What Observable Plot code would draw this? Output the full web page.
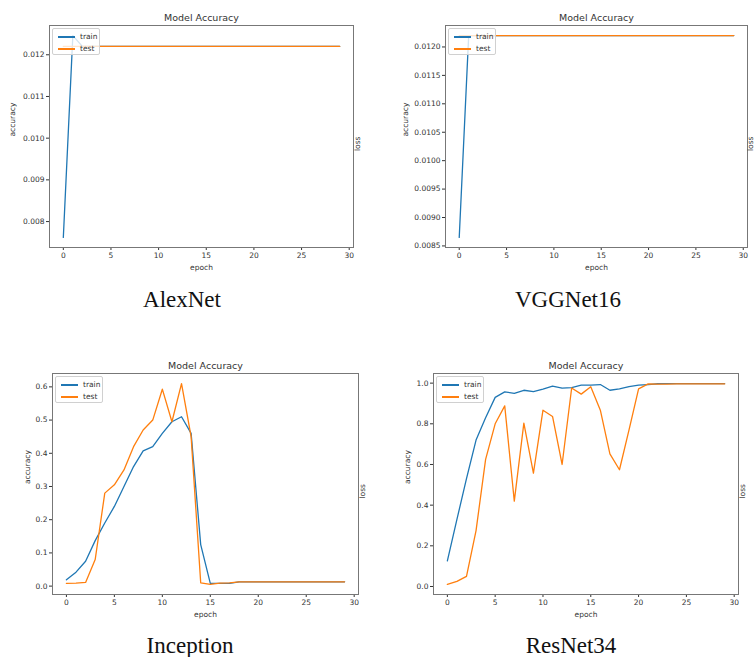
<!DOCTYPE html>
<html>
<head>
<meta charset="utf-8">
<script src="https://cdn.jsdelivr.net/npm/d3@7"></script>
<script src="https://cdn.jsdelivr.net/npm/@observablehq/plot@0.6"></script>
<style>
  html, body { margin: 0; padding: 0; background: #fff; }
  #root { position: relative; width: 754px; height: 657px; overflow: hidden; font-family: "DejaVu Sans", sans-serif; }
  .panel { position: absolute; }
  .caption { position: absolute; font-family: "Liberation Serif", "Times New Roman", serif; font-size: 23px; line-height: 23px; color: #111; transform: translateX(-50%); white-space: nowrap; }
  .legend { position: absolute; box-sizing: border-box; border: 1px solid #d0d0d0; border-radius: 2px; background: rgba(255,255,255,0.8); }
  .legend .row { position: absolute; left: 0; height: 10px; width: 100%; }
  .legend .sw { position: absolute; left: 5px; width: 17px; height: 1.4px; top: 4.3px; }
  .legend .lab { position: absolute; left: 27px; top: 0; font-size: 7.5px; line-height: 10px; color: #333; }
</style>
</head>
<body>
<div id="root"></div>
<script>
// ---- data ----
const epochs = [0,1,2,3,4,5,6,7,8,9,10,11,12,13,14,15,16,17,18,19,20,21,22,23,24,25,26,27,28,29];
const xTicks = [0, 5, 10, 15, 20, 25, 30];
const seriesNames = ["train", "test"];
const captions = ["AlexNet", "VGGNet16", "Inception", "ResNet34"];

const alexTrain = [0.00762,0.01246,0.0122,0.0122,0.0122,0.0122,0.0122,0.0122,0.0122,0.0122,0.0122,0.0122,0.0122,0.0122,0.0122,0.0122,0.0122,0.0122,0.0122,0.0122,0.0122,0.0122,0.0122,0.0122,0.0122,0.0122,0.0122,0.0122,0.0122,0.0122];
const alexTest  = [0.0122,0.0122,0.0122,0.0122,0.0122,0.0122,0.0122,0.0122,0.0122,0.0122,0.0122,0.0122,0.0122,0.0122,0.0122,0.0122,0.0122,0.0122,0.0122,0.0122,0.0122,0.0122,0.0122,0.0122,0.0122,0.0122,0.0122,0.0122,0.0122,0.0122];
const alexYTicks = [0.008, 0.009, 0.010, 0.011, 0.012];

const vggTrain = [0.00865,0.0122,0.0122,0.0122,0.0122,0.0122,0.0122,0.0122,0.0122,0.0122,0.0122,0.0122,0.0122,0.0122,0.0122,0.0122,0.0122,0.0122,0.0122,0.0122,0.0122,0.0122,0.0122,0.0122,0.0122,0.0122,0.0122,0.0122,0.0122,0.0122];
const vggTest  = [0.0122,0.0122,0.0122,0.0122,0.0122,0.0122,0.0122,0.0122,0.0122,0.0122,0.0122,0.0122,0.0122,0.0122,0.0122,0.0122,0.0122,0.0122,0.0122,0.0122,0.0122,0.0122,0.0122,0.0122,0.0122,0.0122,0.0122,0.0122,0.0122,0.0122];
const vggYTicks = [0.0085, 0.0090, 0.0095, 0.0100, 0.0105, 0.0110, 0.0115, 0.0120];

const incTrain = [0.019,0.042,0.075,0.137,0.19,0.24,0.30,0.36,0.407,0.42,0.46,0.495,0.51,0.46,0.125,0.008,0.008,0.008,0.013,0.013,0.013,0.013,0.013,0.013,0.013,0.013,0.013,0.013,0.013,0.013];
const incTest  = [0.008,0.009,0.011,0.08,0.28,0.305,0.35,0.42,0.47,0.50,0.593,0.495,0.61,0.45,0.01,0.005,0.009,0.01,0.013,0.013,0.013,0.013,0.013,0.013,0.013,0.013,0.013,0.013,0.013,0.013];
const incYTicks = [0.0, 0.1, 0.2, 0.3, 0.4, 0.5, 0.6];

const resTrain = [0.126,0.33,0.53,0.72,0.83,0.93,0.957,0.95,0.965,0.958,0.97,0.985,0.975,0.978,0.99,0.99,0.993,0.965,0.972,0.983,0.99,0.993,0.997,0.998,0.998,0.998,0.998,0.998,0.998,0.998];
const resTest  = [0.01,0.025,0.05,0.275,0.625,0.80,0.888,0.42,0.803,0.557,0.867,0.836,0.60,0.976,0.946,0.982,0.867,0.652,0.574,0.77,0.972,0.996,0.995,0.995,0.996,0.996,0.996,0.996,0.996,0.996];
const resYTicks = [0.0, 0.2, 0.4, 0.6, 0.8, 1.0];

// ---- layout (positions/styles only) ----
const panels = [
  {caption: captions[0], train: alexTrain, test: alexTest, yTicks: alexYTicks, fmt: ".3f",
   left: 0,   top: 0,   width: 377, height: 280, mL: 49, mR: 24, mT: 25, mB: 33, accOff: 37, lossOff: 4, cap: [182, 288]},
  {caption: captions[1], train: vggTrain, test: vggTest, yTicks: vggYTicks, fmt: ".4f",
   left: 377, top: 0,   width: 377, height: 280, mL: 68, mR: 7,  mT: 25, mB: 33, accOff: 40, lossOff: 3.5, cap: [568, 288]},
  {caption: captions[2], train: incTrain, test: incTest, yTicks: incYTicks, fmt: ".1f",
   left: 0,   top: 350, width: 377, height: 275, mL: 52, mR: 19, mT: 23, mB: 31, accOff: 25, lossOff: 4, cap: [190, 634]},
  {caption: captions[3], train: resTrain, test: resTest, yTicks: resYTicks, fmt: ".1f",
   left: 377, top: 350, width: 377, height: 275, mL: 56, mR: 16, mT: 23, mB: 31, accOff: 26, lossOff: 4, cap: [571, 634]}
];

const colors = {train: "#1f77b4", test: "#ff7f0e"};
const root = document.getElementById("root");

function padDomain(vals) {
  const lo = d3.min(vals), hi = d3.max(vals), pad = (hi - lo) * 0.05;
  return [lo - pad, hi + pad];
}

for (const p of panels) {
  const rows = epochs.map((e, i) => ({epoch: e, train: p.train[i], test: p.test[i]}));
  const xDom = padDomain(epochs);
  const yDom = padDomain(p.train.concat(p.test));
  const svg = Plot.plot({
    width: p.width, height: p.height,
    marginLeft: p.mL, marginRight: p.mR, marginTop: p.mT, marginBottom: p.mB,
    style: {fontFamily: '"DejaVu Sans", sans-serif', fontSize: "7.5px", color: "#333", background: "transparent", overflow: "visible"},
    x: {domain: xDom},
    y: {domain: yDom},
    marks: [
      Plot.axisX({ticks: xTicks, tickFormat: d => String(d), tickSize: 3, tickPadding: 2, label: null}),
      Plot.axisY({ticks: p.yTicks, tickFormat: d3.format(p.fmt), tickSize: 3, tickPadding: 2, label: null}),
      Plot.line(rows, {x: "epoch", y: "train", stroke: colors.train, strokeWidth: 1.3}),
      Plot.line(rows, {x: "epoch", y: "test", stroke: colors.test, strokeWidth: 1.3}),
      Plot.frame({stroke: "#777"}),
      Plot.text(["Model Accuracy"], {text: d => d, frameAnchor: "top", lineAnchor: "middle", dy: -8, fontSize: 9.5, fontWeight: "normal", fill: "#333"}),
      Plot.text(["epoch"], {text: d => d, frameAnchor: "bottom", lineAnchor: "middle", dy: 20, fill: "#333"}),
      Plot.text(["accuracy"], {text: d => d, frameAnchor: "left", lineAnchor: "middle", dx: -p.accOff, rotate: -90, fill: "#333"}),
      Plot.text(["loss"], {text: d => d, frameAnchor: "right", lineAnchor: "middle", dx: p.lossOff, rotate: -90, fill: "#333"})
    ]
  });
  const wrap = document.createElement("div");
  wrap.className = "panel";
  wrap.style.left = p.left + "px";
  wrap.style.top = p.top + "px";
  wrap.appendChild(svg);
  root.appendChild(wrap);

  // legend (upper left inside axes)
  const lg = document.createElement("div");
  lg.className = "legend";
  lg.style.left = (p.left + p.mL + 3) + "px";
  lg.style.top = (p.top + p.mT + 3) + "px";
  lg.style.width = "48px";
  lg.style.height = "27px";
  seriesNames.forEach((name, i) => {
    const row = document.createElement("div");
    row.className = "row";
    row.style.top = (3 + i * 12) + "px";
    const sw = document.createElement("div");
    sw.className = "sw";
    sw.style.background = colors[name];
    const lab = document.createElement("div");
    lab.className = "lab";
    lab.textContent = name;
    row.appendChild(sw);
    row.appendChild(lab);
    lg.appendChild(row);
  });
  root.appendChild(lg);

  const cap = document.createElement("div");
  cap.className = "caption";
  cap.textContent = p.caption;
  cap.style.left = p.cap[0] + "px";
  cap.style.top = p.cap[1] + "px";
  root.appendChild(cap);
}
</script>
</body>
</html>
